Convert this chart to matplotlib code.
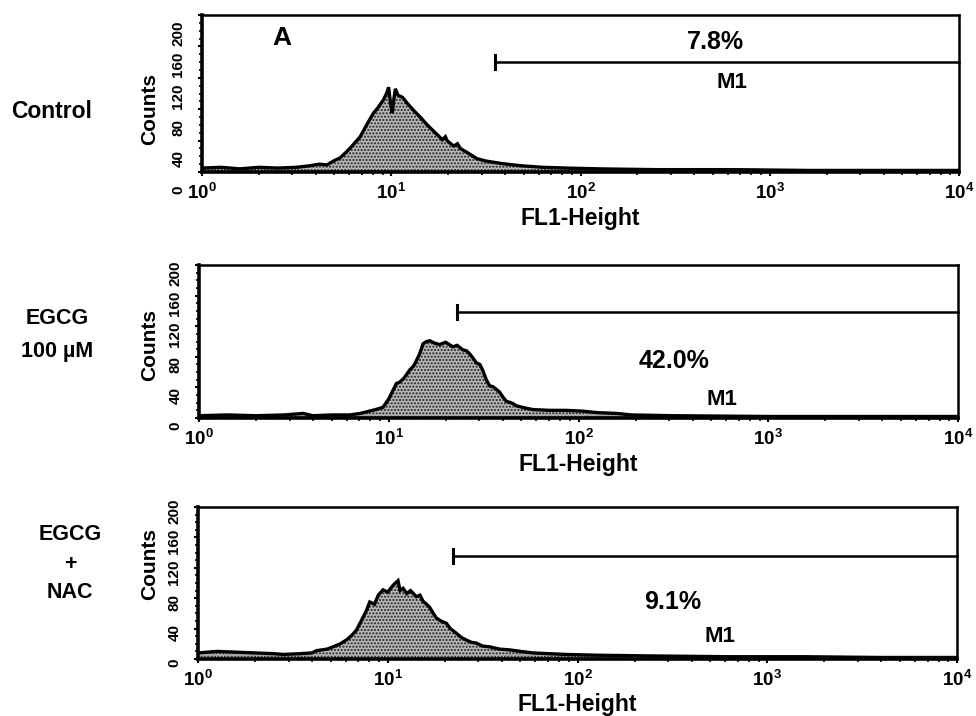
import numpy as np
import matplotlib
matplotlib.use("Agg")
import matplotlib.pyplot as plt
from matplotlib import font_manager
from matplotlib.transforms import ScaledTranslation
from matplotlib.ticker import FixedLocator, MultipleLocator, LogLocator, NullFormatter

# ---------------- data ----------------
row_labels = [["Control"], ["EGCG", "100 \u00b5M"], ["EGCG", "+", "NAC"]]
gate_pct = ["7.8%", "42.0%", "9.1%"]
gate_name = "M1"
gate_start = [35.3, 22.9, 22.1]      # FL1 value where M1 marker starts
gate_level = [140.5, 139.0, 135.5]   # counts level of M1 marker
count_ticks = [0, 40, 80, 120, 160, 200]
fl1_ticks = [1, 10, 100, 1000, 10000]
fl1_ticklabels = ["$10^{0}$", "$10^{1}$", "$10^{2}$", "$10^{3}$", "$10^{4}$"]

# histogram traces: log10(FL1) positions and counts
ctrl_log = [0.00, 0.10, 0.20, 0.30, 0.40, 0.50, 0.571, 0.62, 0.66, 0.695, 0.73, 0.765, 0.80, 0.836,
            0.87, 0.906, 0.93, 0.959, 0.975, 0.986, 0.995, 1.005, 1.015, 1.022, 1.035, 1.06, 1.083,
            1.12, 1.153, 1.19, 1.224, 1.25, 1.27, 1.286, 1.295, 1.33, 1.35, 1.365, 1.40, 1.453,
            1.50, 1.577, 1.683, 1.80, 1.93, 2.10, 2.40, 2.80, 3.20, 3.60, 4.00]
ctrl_cnt = [5, 6, 4, 6, 5, 6, 8, 10, 9, 14, 18, 26, 35, 45,
            60, 75, 82, 92, 100, 108, 90, 75, 95, 106, 98, 95, 88,
            78, 70, 60, 52, 46, 41, 45, 40, 33, 36, 30, 25, 17,
            14, 11, 8, 6, 5, 4, 3, 3, 2, 2, 2]

egcg_log = [0.00, 0.15, 0.30, 0.45, 0.549, 0.60, 0.70, 0.795, 0.85, 0.883, 0.93, 0.97, 1.00, 1.04,
            1.058, 1.08, 1.111, 1.128, 1.14, 1.163, 1.181, 1.20, 1.216, 1.24, 1.268, 1.30, 1.338,
            1.36, 1.391, 1.409, 1.426, 1.445, 1.462, 1.48, 1.496, 1.514, 1.532, 1.549, 1.584,
            1.60, 1.619, 1.654, 1.672, 1.72, 1.76, 1.85, 1.935, 2.02, 2.10, 2.20, 2.28, 2.50,
            3.00, 3.50, 4.00]
egcg_cnt = [3, 4, 3, 4, 6, 3, 4, 4, 6, 8, 11, 14, 25, 45,
            47, 52, 63, 67, 72, 84, 97, 100, 101, 98, 96, 99, 93,
            95, 89, 88, 84, 78, 72, 70, 62, 50, 42, 41, 34,
            28, 22, 19, 16, 13, 11, 10, 10, 9, 7, 6, 4, 3,
            2, 2, 2]

nac_log = [0.00, 0.10, 0.20, 0.30, 0.40, 0.45, 0.537, 0.60, 0.625, 0.68, 0.712, 0.75, 0.782, 0.81,
           0.835, 0.86, 0.888, 0.905, 0.93, 0.95, 0.975, 1.00, 1.028, 1.054, 1.065, 1.081, 1.10,
           1.12, 1.151, 1.17, 1.186, 1.205, 1.221, 1.24, 1.256, 1.28, 1.309, 1.33, 1.361, 1.39,
           1.414, 1.44, 1.467, 1.50, 1.537, 1.59, 1.642, 1.70, 1.765, 1.85, 1.94, 2.10, 2.40,
           2.80, 3.20, 3.60, 4.00]
nac_cnt = [8, 10, 9, 8, 7, 6, 7, 8, 11, 13, 16, 20, 25, 31,
           38, 50, 64, 75, 72, 84, 91, 88, 97, 103, 90, 93, 86,
           90, 82, 84, 76, 72, 68, 60, 54, 50, 47, 40, 34, 28,
           25, 22, 21, 17, 16, 13, 12, 10, 8, 7, 6, 5, 4,
           3, 3, 2, 2]

series = [(ctrl_log, ctrl_cnt), (egcg_log, egcg_cnt), (nac_log, nac_cnt)]

# ---------------- fonts ----------------
names = {f.name for f in font_manager.fontManager.ttflist}
FONT = "Liberation Sans" if "Liberation Sans" in names else "DejaVu Sans"
plt.rcParams["font.family"] = [FONT, "DejaVu Sans"]
plt.rcParams["font.weight"] = "bold"
plt.rcParams["mathtext.fontset"] = "custom"
plt.rcParams["mathtext.rm"] = FONT + ":bold"
plt.rcParams["mathtext.bf"] = FONT + ":bold"
plt.rcParams["mathtext.it"] = FONT + ":bold"
plt.rcParams["hatch.linewidth"] = 1.0

W, H = 976, 716
fig = plt.figure(figsize=(W / 100, H / 100), dpi=100)

# panel rectangles in pixels: left, top, right, bottom
rects = [(202, 15, 959, 172), (199, 265, 958, 418), (198, 507, 957, 659)]
ylab_shift = [18, 8, 4]          # px the count labels sit below their ticks
counts_pos = [(150, 109), (150, 345), (150, 564)]
pct_pos = [(0.678, 0.828), (0.626, 0.373), (0.625, 0.375)]
m1_pos = [(0.700, 0.573), (0.689, 0.124), (0.688, 0.151)]

for i, (rect, (lg, cnt)) in enumerate(zip(rects, series)):
    l, t, r, b = rect
    ax = fig.add_axes([l / W, 1 - b / H, (r - l) / W, (b - t) / H])
    x = np.power(10.0, np.array(lg))
    y = np.array(cnt, dtype=float)
    ax.fill_between(x, 0, y, facecolor="#b8b8b8", edgecolor="#202020",
                    hatch=".....", linewidth=0)
    ax.plot(x, y, color="black", lw=2.4, solid_joinstyle="miter")
    ax.set_xscale("log")
    ax.set_xlim(1, 1e4)
    ax.set_ylim(0, 200)

    for side in ["top", "right"]:
        ax.spines[side].set_linewidth(1.8)
    for side in ["bottom", "left"]:
        ax.spines[side].set_linewidth(2.6)

    ax.xaxis.set_major_locator(FixedLocator(fl1_ticks))
    ax.set_xticklabels(fl1_ticklabels)
    ax.xaxis.set_minor_locator(LogLocator(base=10, subs=np.arange(2, 10)))
    ax.xaxis.set_minor_formatter(NullFormatter())
    ax.tick_params(axis="x", which="major", direction="out", length=3, width=1.5,
                   pad=5, labelsize=13.5)
    ax.tick_params(axis="x", which="minor", direction="out", length=2, width=1.2)

    ax.set_yticks(count_ticks)
    ax.set_yticklabels([str(v) for v in count_ticks])
    ax.yaxis.set_minor_locator(MultipleLocator(10))
    ax.tick_params(axis="y", which="major", direction="out", length=3, width=1.5,
                   pad=9, labelsize=11, labelrotation=90)
    ax.tick_params(axis="y", which="minor", direction="out", length=2, width=1.2)
    off = ScaledTranslation(0, -ylab_shift[i] / 100, fig.dpi_scale_trans)
    for lab in ax.get_yticklabels():
        lab.set_transform(lab.get_transform() + off)
        lab.set_va("center")

    ax.set_xlabel("FL1-Height", fontsize=16.5, fontweight="bold")
    ax.xaxis.set_label_coords(0.5, -46 / (b - t))
    ax.xaxis.label.set_va("center")

    # gate marker
    g0, gy = gate_start[i], gate_level[i]
    ax.plot([g0, 1e4], [gy, gy], color="black", lw=1.8, clip_on=False)
    ax.plot([g0, g0], [gy - 9, gy + 9], color="black", lw=2.2)
    ax.text(*pct_pos[i], gate_pct[i], transform=ax.transAxes, ha="center", va="center",
            fontsize=18, fontweight="bold")
    ax.text(*m1_pos[i], gate_name, transform=ax.transAxes, ha="center", va="center",
            fontsize=16, fontweight="bold")
    if i == 0:
        ax.text(0.106, 0.853, "A", transform=ax.transAxes, ha="center", va="center",
                fontsize=19, fontweight="bold")

    cx, cy = counts_pos[i]
    fig.text(cx / W, 1 - cy / H, "Counts", rotation=90, ha="center", va="center",
             fontsize=15, fontweight="bold")

# row labels
fig.text(52 / W, 1 - 111 / H, row_labels[0][0], ha="center", va="center", fontsize=16.5)
for txt, yy in zip(row_labels[1], [319, 352]):
    fig.text(57 / W, 1 - yy / H, txt, ha="center", va="center", fontsize=15.5)
for txt, yy in zip(row_labels[2], [535, 565, 593]):
    fig.text(70 / W, 1 - yy / H, txt, ha="center", va="center", fontsize=15.5)

fig.savefig("out.png", dpi=100)
